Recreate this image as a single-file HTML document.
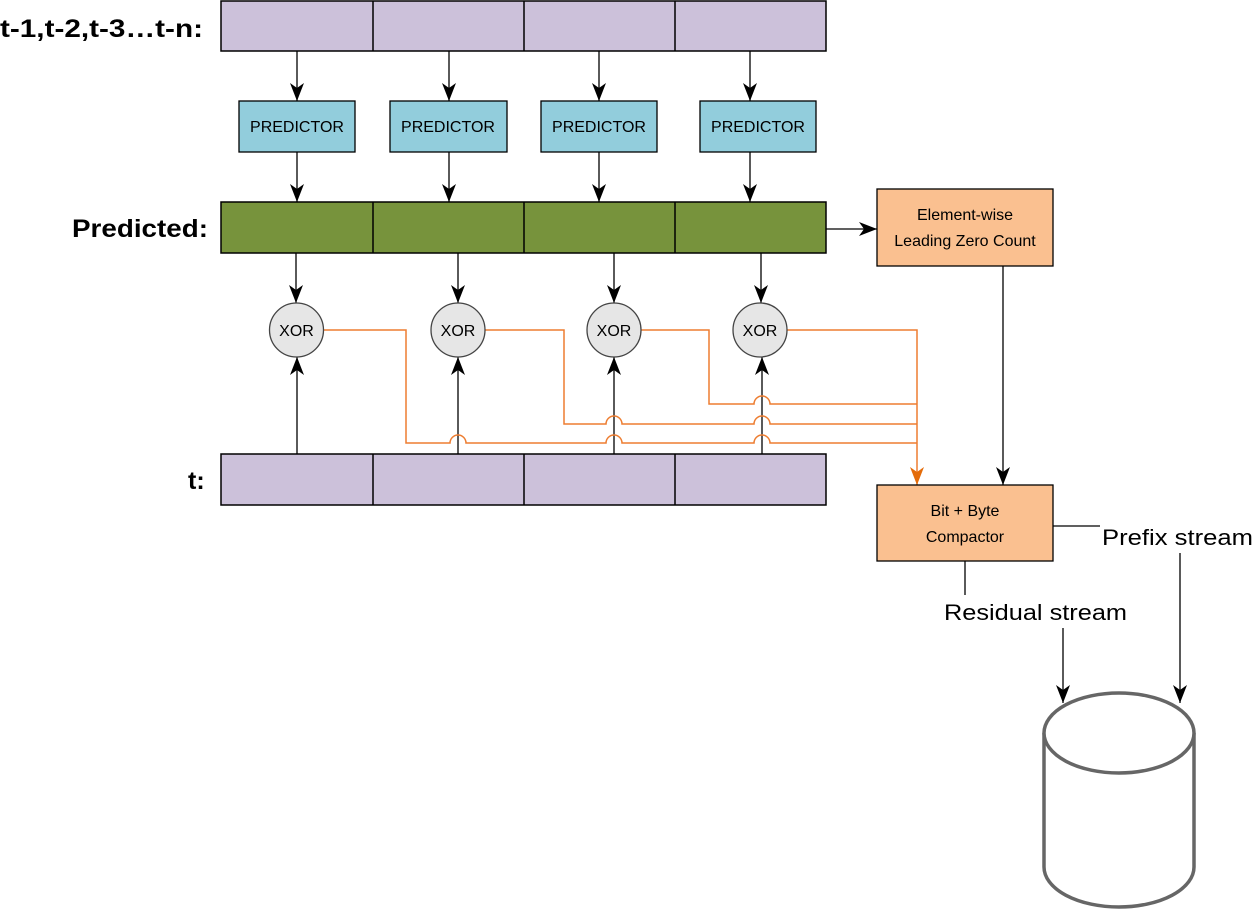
<!DOCTYPE html>
<html><head><meta charset="utf-8"><style>body{margin:0;background:#fff}svg{display:block}text{font-family:"Liberation Sans",sans-serif}</style></head>
<body>
<svg width="1257" height="910" viewBox="0 0 1257 910" xmlns="http://www.w3.org/2000/svg">
<defs>
<marker id="a" markerWidth="18" markerHeight="14" refX="18" refY="7" orient="auto" markerUnits="userSpaceOnUse" viewBox="0 0 18 14"><path d="M0,0 L5,7 L0,14 L18,7 Z" fill="#000"/></marker>
<marker id="o" markerWidth="18" markerHeight="14" refX="18" refY="7" orient="auto" markerUnits="userSpaceOnUse" viewBox="0 0 18 14"><path d="M0,0 L5,7 L0,14 L18,7 Z" fill="#E46C0A"/></marker>
</defs>
<text x="0" y="37" font-size="25" font-weight="bold" textLength="203" lengthAdjust="spacingAndGlyphs">t-1,t-2,t-3…t-n:</text>
<text x="72" y="237" font-size="25" font-weight="bold" textLength="136" lengthAdjust="spacingAndGlyphs">Predicted:</text>
<text x="188" y="489" font-size="25" font-weight="bold">t:</text>
<g stroke="#000" stroke-width="1.5">
<rect x="221" y="1" width="605" height="50" fill="#CCC1DA"/>
<line x1="373" y1="1" x2="373" y2="51"/><line x1="524" y1="1" x2="524" y2="51"/><line x1="675" y1="1" x2="675" y2="51"/>
<rect x="221" y="202" width="605" height="51" fill="#77933C"/>
<line x1="373" y1="202" x2="373" y2="253"/><line x1="524" y1="202" x2="524" y2="253"/><line x1="675" y1="202" x2="675" y2="253"/>
<rect x="221" y="454" width="605" height="51" fill="#CCC1DA"/>
<line x1="373" y1="454" x2="373" y2="505"/><line x1="524" y1="454" x2="524" y2="505"/><line x1="675" y1="454" x2="675" y2="505"/>
</g>
<g stroke="#000" stroke-width="1.3" fill="#92CDDC">
<rect x="239" y="101" width="116" height="51"/><rect x="390" y="101" width="117" height="51"/><rect x="541" y="101" width="116" height="51"/><rect x="700" y="101" width="116" height="51"/>
</g>
<g font-size="16" text-anchor="middle">
<text x="297" y="132">PREDICTOR</text><text x="448" y="132">PREDICTOR</text><text x="599" y="132">PREDICTOR</text><text x="758" y="132">PREDICTOR</text>
</g>
<g stroke="#000" stroke-width="1.3" marker-end="url(#a)">
<line x1="297" y1="51" x2="297" y2="101"/><line x1="449" y1="51" x2="449" y2="101"/><line x1="599" y1="51" x2="599" y2="101"/><line x1="750" y1="51" x2="750" y2="101"/>
<line x1="297" y1="152" x2="297" y2="202"/><line x1="449" y1="152" x2="449" y2="202"/><line x1="599" y1="152" x2="599" y2="202"/><line x1="750" y1="152" x2="750" y2="202"/>
<line x1="296" y1="253" x2="296" y2="303"/><line x1="458" y1="253" x2="458" y2="303"/><line x1="614" y1="253" x2="614" y2="303"/><line x1="761" y1="253" x2="761" y2="303"/>
<line x1="297" y1="454" x2="297" y2="357"/><line x1="458" y1="454" x2="458" y2="357"/><line x1="614" y1="454" x2="614" y2="357"/><line x1="762" y1="454" x2="762" y2="357"/>
<line x1="826" y1="229" x2="877" y2="229"/>
<line x1="1003" y1="266" x2="1003" y2="485"/>
<line x1="1063" y1="628" x2="1063" y2="703"/>
<line x1="1180" y1="553" x2="1180" y2="703"/>
</g>
<g stroke="#ED7D31" stroke-width="1.5" fill="none">
<path d="M323,330 H406 V443 H450 a8,8 0 0 1 16,0 H606 a8,8 0 0 1 16,0 H754 a8,8 0 0 1 16,0 H917"/>
<path d="M485,330 H564 V424 H606 a8,8 0 0 1 16,0 H754 a8,8 0 0 1 16,0 H917"/>
<path d="M641,330 H709 V404 H754 a8,8 0 0 1 16,0 H917"/>
<path d="M787,330 H917 V485" marker-end="url(#o)"/>
</g>
<g stroke="#444" stroke-width="1.3" fill="#E6E6E6">
<circle cx="296.5" cy="330" r="27"/><circle cx="458" cy="330" r="27"/><circle cx="614" cy="330" r="27"/><circle cx="760" cy="330" r="27"/>
</g>
<g font-size="16" text-anchor="middle">
<text x="296.5" y="336">XOR</text><text x="458" y="336">XOR</text><text x="614" y="336">XOR</text><text x="760" y="336">XOR</text>
</g>
<g stroke="#000" stroke-width="1.3" fill="#FAC090">
<rect x="877" y="189" width="176" height="77"/><rect x="877" y="485" width="176" height="76"/>
</g>
<g font-size="16" text-anchor="middle">
<text x="965" y="220">Element-wise</text><text x="965" y="246">Leading Zero Count</text>
<text x="965" y="516">Bit + Byte</text><text x="965" y="542">Compactor</text>
</g>
<g stroke="#000" stroke-width="1.3">
<line x1="1053" y1="526" x2="1100" y2="526"/>
<line x1="965" y1="561" x2="965" y2="595"/>
</g>
<text x="1102" y="545" font-size="22" textLength="151" lengthAdjust="spacingAndGlyphs">Prefix stream</text>
<text x="944" y="620" font-size="22" textLength="183" lengthAdjust="spacingAndGlyphs">Residual stream</text>
<g stroke="#666" stroke-width="3.5" fill="#fff">
<path d="M1044,733 V867 A75,40 0 0 0 1194,867 V733"/>
<ellipse cx="1119" cy="733" rx="75" ry="40"/>
</g>
</svg>
</body></html>
